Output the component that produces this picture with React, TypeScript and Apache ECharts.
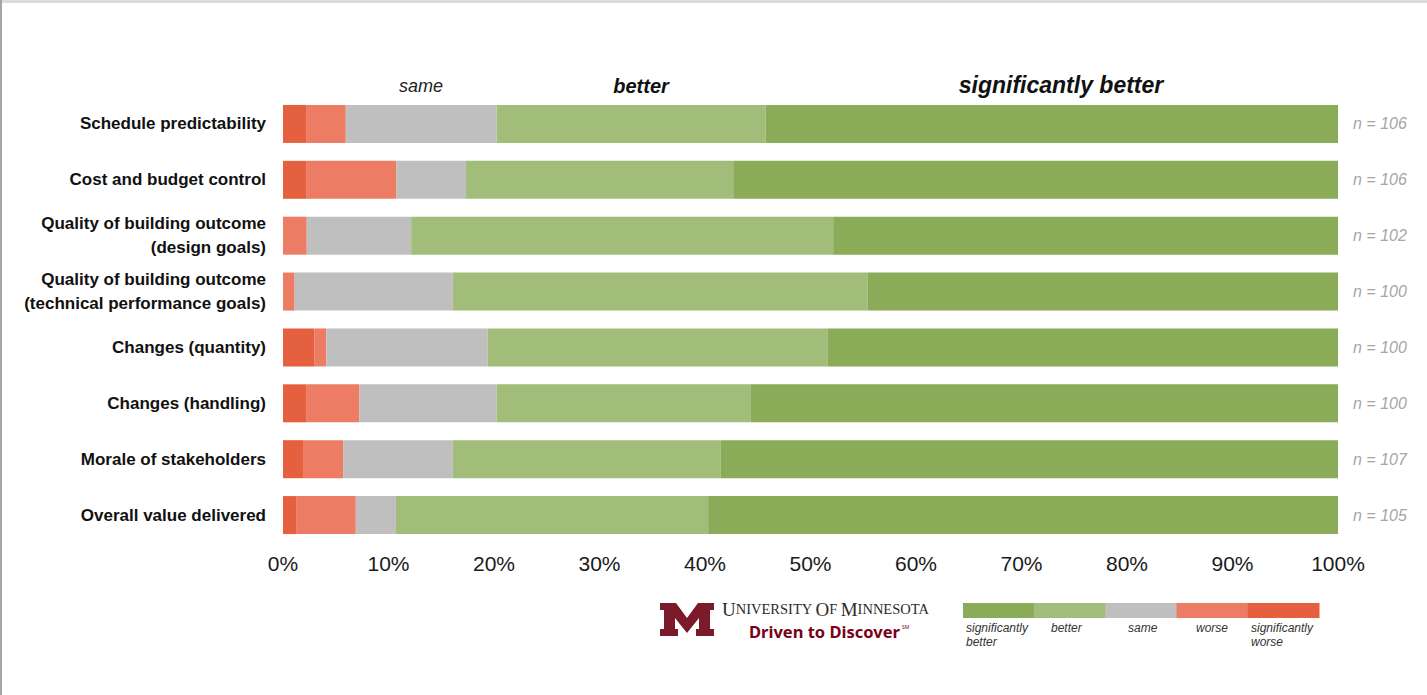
import React, { useEffect, useRef } from "react";
import * as echarts from "echarts";

const categories = [
  "Schedule predictability",
  "Cost and budget control",
  "Quality of building outcome\n(design goals)",
  "Quality of building outcome\n(technical performance goals)",
  "Changes (quantity)",
  "Changes (handling)",
  "Morale of stakeholders",
  "Overall value delivered",
];
const sigWorse = [2.25, 2.25, 0, 0, 3.0, 2.25, 1.9, 1.3];
const worse = [3.7, 8.5, 2.25, 1.1, 1.1, 5.0, 3.8, 5.6];
const same = [14.3, 6.6, 9.9, 15.0, 15.3, 13.0, 10.4, 3.8];
const better = [25.5, 25.4, 40.0, 39.3, 32.2, 24.1, 25.4, 29.6];
const sigBetter = [54.25, 57.25, 47.85, 44.6, 48.4, 55.65, 58.5, 59.7];
const nValues = [106, 106, 102, 100, 100, 100, 107, 105];
const legendNames = ["significantly\nbetter", "better", "same", "worse", "significantly\nworse"];

const C_SB = "#8aab57";
const C_B = "#a2bc79";
const C_S = "#bfbfbf";
const C_W = "#ec7d64";
const C_SW = "#e5603f";
const SANS = "'Liberation Sans', Arial, sans-serif";

const mShape = [
  [0, 0], [16, 0], [27, 15], [38, 0], [54, 0], [54, 7], [50, 7], [50, 26], [54, 26], [54, 33],
  [36, 33], [36, 26], [39, 26], [39, 15], [27, 30], [15, 15], [15, 26], [18, 26], [18, 33],
  [0, 33], [0, 26], [4, 26], [4, 7], [0, 7],
];

export default function App() {
  const ref = useRef<HTMLDivElement>(null);
  useEffect(() => {
    if (!ref.current) return;
    const chart = echarts.init(ref.current, null, { renderer: "svg" });
    const mk = (name: string, data: number[], color: string, extra: any = {}) => ({
      name,
      type: "bar",
      stack: "total",
      data,
      barWidth: 38,
      itemStyle: { color },
      ...extra,
    });
    const legendColors = [C_SB, C_B, C_S, C_W, C_SW];
    const legendX = 963;
    const legendW = 71.2;
    const legendGraphics: any[] = [];
    legendColors.forEach((c, i) => {
      legendGraphics.push({
        type: "rect",
        shape: { x: legendX + i * legendW, y: 603, width: legendW + 0.5, height: 15 },
        style: { fill: c },
      });
    });
    const legendTextX = [966, 1051, 1128, 1196, 1251];
    legendNames.forEach((t, i) => {
      legendGraphics.push({
        type: "text",
        x: legendTextX[i],
        y: 621,
        style: {
          text: t,
          font: `italic 12px ${SANS}`,
          fill: "#333",
          lineHeight: 14,
        },
      });
    });

    chart.setOption({
      animation: false,
      backgroundColor: "#ffffff",
      grid: { left: 283, right: 89, top: 96, bottom: 152, containLabel: false, outerBoundsMode: "none" },
      xAxis: {
        type: "value",
        min: 0,
        max: 100,
        interval: 10,
        axisLine: { show: false },
        axisTick: { show: false },
        splitLine: { show: false },
        axisLabel: {
          formatter: "{value}%",
          fontFamily: SANS,
          fontSize: 21,
          color: "#1a1a1a",
          margin: 10,
        },
      },
      yAxis: {
        type: "category",
        data: categories,
        inverse: true,
        axisLine: { show: false },
        axisTick: { show: false },
        axisLabel: {
          fontFamily: SANS,
          fontWeight: "bold",
          fontSize: 17,
          lineHeight: 24,
          color: "#111",
          margin: 17,
          align: "right",
        },
      },
      series: [
        mk("significantly worse", sigWorse, C_SW),
        mk("worse", worse, C_W),
        mk("same", same, C_S),
        mk("better", better, C_B),
        mk("significantly better", sigBetter, C_SB, {
          label: {
            show: true,
            position: "right",
            distance: 15,
            formatter: (p: any) => `n = ${nValues[p.dataIndex]}`,
            fontFamily: SANS,
            fontStyle: "italic",
            fontSize: 16,
            color: "#a6a6a6",
          },
        }),
      ],
      graphic: [
        { type: "rect", shape: { x: 0, y: 0, width: 1427, height: 3 }, style: { fill: "#dddcd8" } },
        { type: "rect", shape: { x: 0, y: 0, width: 2, height: 695 }, style: { fill: "#a9a5a2" } },
        {
          type: "text",
          x: 421,
          y: 86,
          style: { text: "same", font: `italic 18px ${SANS}`, fill: "#222", align: "center", verticalAlign: "middle" },
        },
        {
          type: "text",
          x: 641,
          y: 86,
          style: { text: "better", font: `italic bold 20px ${SANS}`, fill: "#111", align: "center", verticalAlign: "middle" },
        },
        {
          type: "text",
          x: 1061,
          y: 85,
          style: {
            text: "significantly better",
            font: `italic bold 23px ${SANS}`,
            fill: "#111",
            align: "center",
            verticalAlign: "middle",
          },
        },
        {
          type: "polygon",
          x: 660,
          y: 603,
          shape: { points: mShape },
          style: { fill: "#7a1a2a" },
        },
        {
          type: "text",
          x: 722,
          y: 609,
          style: {
            text: "{a|U}{b|NIVERSITY} {a|O}{b|F} {a|M}{b|INNESOTA}",
            verticalAlign: "middle",
            rich: {
              a: { fontFamily: "'Liberation Serif', 'DejaVu Serif', serif", fontSize: 19, fill: "#2b2b2b", color: "#2b2b2b" },
              b: { fontFamily: "'Liberation Serif', 'DejaVu Serif', serif", fontSize: 14.5, fill: "#2b2b2b", color: "#2b2b2b" },
            },
          },
        },
        {
          type: "text",
          x: 749,
          y: 631,
          style: {
            text: "Driven to Discover",
            font: "bold 16.5px 'Noto Sans', 'Open Sans', sans-serif",
            fill: "#7a0019",
            verticalAlign: "middle",
          },
        },
        {
          type: "text",
          x: 902,
          y: 627,
          style: { text: "SM", font: "5px 'Noto Sans', sans-serif", fill: "#7a0019", verticalAlign: "middle" },
        },
        ...legendGraphics,
      ],
    });
    return () => chart.dispose();
  }, []);
  return (
    <div
      ref={ref}
      style={{ position: "absolute", left: 0, top: 0, width: 1427, height: 695 }}
    />
  );
}
